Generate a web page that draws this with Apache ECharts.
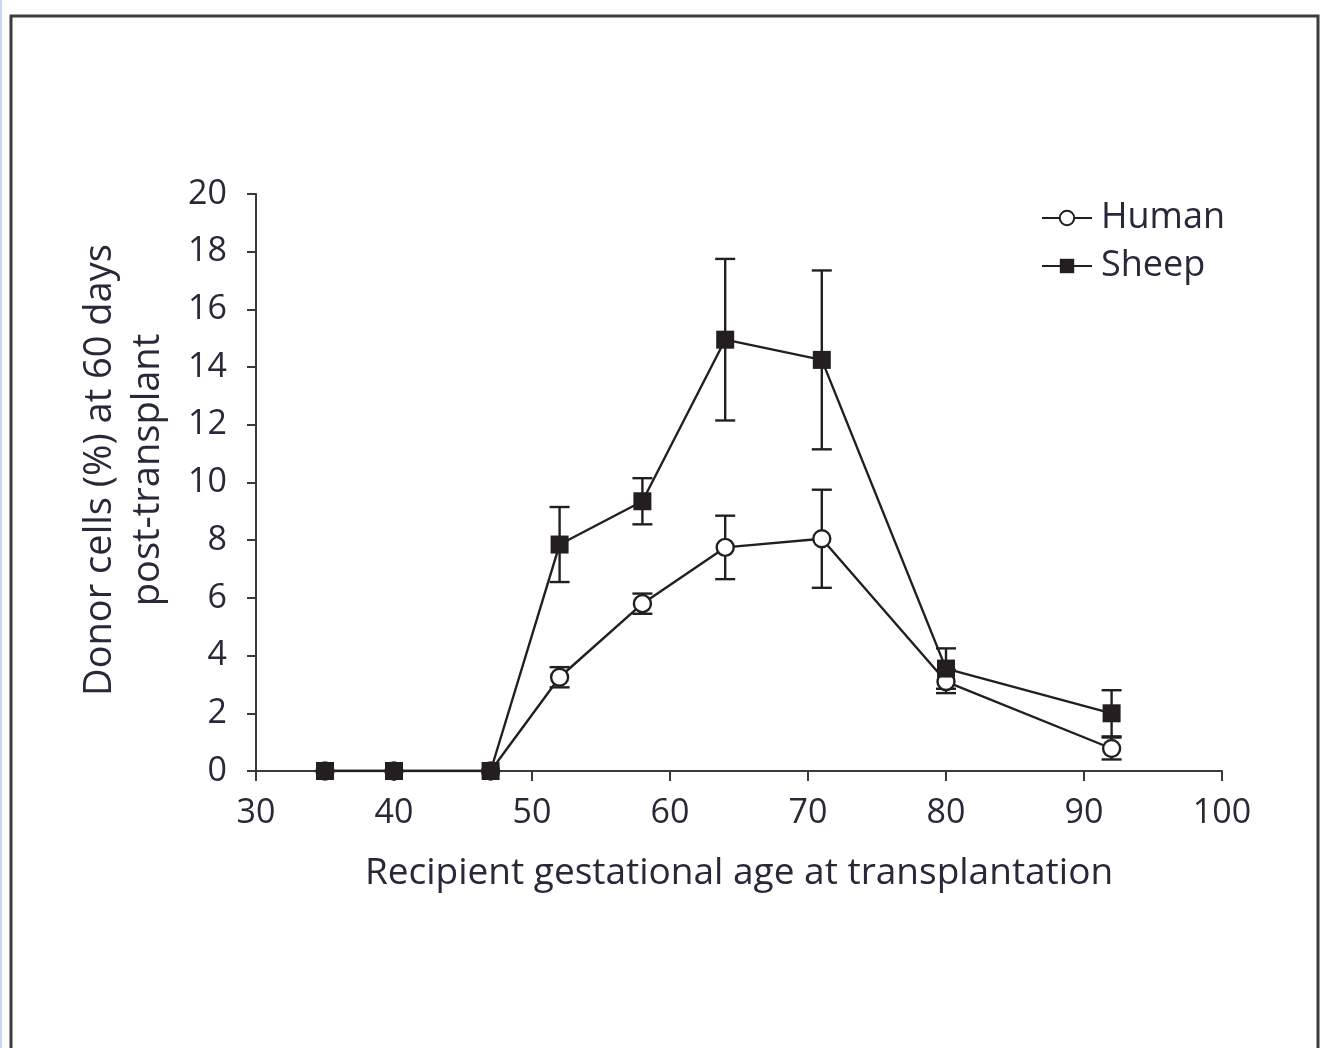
<!DOCTYPE html>
<html>
<head>
<meta charset="utf-8">
<script src="https://cdn.jsdelivr.net/npm/echarts@6/dist/echarts.min.js"></script>
<style>
  html, body { margin: 0; padding: 0; background: #fff; }
  #chart { width: 1321px; height: 1048px; }
</style>
</head>
<body>
<div id="chart"></div>
<script>
// Recipient gestational age (days) at transplantation
const ages = [35, 40, 47, 52, 58, 64, 71, 80, 92];
// Donor cells (%) at 60 days post-transplant, mean values
const humanMean = [0, 0, 0, 3.25, 5.8, 7.75, 8.05, 3.1, 0.78];
const sheepMean = [0, 0, 0, 7.85, 9.35, 14.95, 14.25, 3.55, 2.0];
// Error bar half-widths (SEM)
const humanErr = [0, 0, 0, 0.35, 0.35, 1.1, 1.7, 0.4, 0.38];
const sheepErr = [0, 0, 0, 1.3, 0.8, 2.8, 3.1, 0.7, 0.8];

const xTicks = [30, 40, 50, 60, 70, 80, 90, 100];
const yTicks = [0, 2, 4, 6, 8, 10, 12, 14, 16, 18, 20];

const ink = '#231f20';
const textInk = '#2b2638';
const fontFamily = '"Open Sans", "Noto Sans", sans-serif';

function pairs(xs, ys) { return xs.map((x, i) => [x, ys[i]]); }
function errRows(xs, ys, es) {
  return xs.map((x, i) => [x, ys[i] - es[i], ys[i] + es[i]]).filter((r, i) => es[i] > 0);
}

function errorBarRenderer(params, api) {
  const x = api.value(0);
  const lo = api.coord([x, api.value(1)]);
  const hi = api.coord([x, api.value(2)]);
  const cap = 10;
  const style = { stroke: ink, lineWidth: 2.4, fill: null };
  return {
    type: 'group',
    children: [
      { type: 'line', shape: { x1: lo[0], y1: lo[1], x2: hi[0], y2: hi[1] }, style },
      { type: 'line', shape: { x1: hi[0] - cap, y1: hi[1], x2: hi[0] + cap, y2: hi[1] }, style },
      { type: 'line', shape: { x1: lo[0] - cap, y1: lo[1], x2: lo[0] + cap, y2: lo[1] }, style }
    ]
  };
}

const chart = echarts.init(document.getElementById('chart'), null, { renderer: 'canvas' });

chart.setOption({
  animation: false,
  backgroundColor: '#ffffff',
  graphic: [
    { type: 'rect', shape: { x: 0, y: 0, width: 2, height: 1048 }, style: { fill: '#c6d9f1' }, silent: true },
    { type: 'rect', shape: { x: 11, y: 16, width: 1307, height: 1060 }, style: { fill: null, stroke: '#3c3c3c', lineWidth: 3 }, silent: true, z: -1 },
    {
      type: 'text', rotation: Math.PI / 2, x: 124, y: 470,
      style: {
        text: 'Donor cells (%) at 60 days\npost-transplant',
        fill: textInk, font: '500 38px ' + fontFamily, align: 'center', verticalAlign: 'middle', lineHeight: 48
      }
    }
  ],
  legend: {
    orient: 'vertical',
    left: 1036,
    top: 195,
    itemWidth: 50,
    itemHeight: 18,
    itemGap: 12,
    textStyle: { color: textInk, fontSize: 36, fontWeight: 500, fontFamily: fontFamily, padding: [0, 0, 0, 4] },
    data: ['Human', 'Sheep']
  },
  grid: { left: 256, right: 99, top: 194, bottom: 277, containLabel: false },
  xAxis: {
    type: 'value',
    min: 30, max: 100, interval: 10,
    name: 'Recipient gestational age at transplantation',
    nameLocation: 'middle',
    nameGap: 84,
    nameTextStyle: { color: textInk, fontSize: 37, fontWeight: 500, fontFamily: fontFamily },
    axisLine: { show: true, lineStyle: { color: '#3a3a3a', width: 2 } },
    axisTick: { show: true, inside: false, length: 10, lineStyle: { color: '#3a3a3a', width: 2 } },
    axisLabel: { color: textInk, fontSize: 34, fontWeight: 500, fontFamily: fontFamily, margin: 25,
      formatter: v => xTicks.includes(v) ? String(v) : '' },
    splitLine: { show: false }
  },
  yAxis: {
    type: 'value',
    min: 0, max: 20, interval: 2,
    axisLine: { show: true, lineStyle: { color: '#3a3a3a', width: 2 } },
    axisTick: { show: true, inside: false, length: 9, lineStyle: { color: '#3a3a3a', width: 2 } },
    axisLabel: { color: textInk, fontSize: 34, fontWeight: 500, fontFamily: fontFamily, margin: 29,
      formatter: v => yTicks.includes(v) ? String(v) : '' },
    splitLine: { show: false }
  },
  series: [
    {
      name: 'HumanErr', type: 'custom', renderItem: errorBarRenderer,
      data: errRows(ages, humanMean, humanErr), z: 2, silent: true
    },
    {
      name: 'SheepErr', type: 'custom', renderItem: errorBarRenderer,
      data: errRows(ages, sheepMean, sheepErr), z: 2, silent: true
    },
    {
      name: 'Human', type: 'line', data: pairs(ages, humanMean),
      symbol: 'circle', symbolSize: 17,
      lineStyle: { color: ink, width: 2.4 },
      itemStyle: { color: '#ffffff', borderColor: ink, borderWidth: 2.4 },
      z: 3
    },
    {
      name: 'Sheep', type: 'line', data: pairs(ages, sheepMean),
      symbol: 'rect', symbolSize: 18,
      lineStyle: { color: ink, width: 2.4 },
      itemStyle: { color: ink, borderColor: ink, borderWidth: 0 },
      z: 4
    }
  ]
});
</script>
</body>
</html>
